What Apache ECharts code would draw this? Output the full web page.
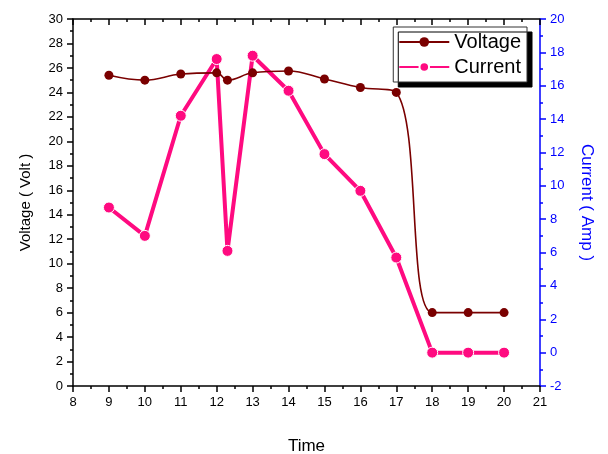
<!DOCTYPE html>
<html>
<head>
<meta charset="utf-8">
<script src="https://cdn.jsdelivr.net/npm/echarts@6/dist/echarts.min.js"></script>
<style>
  html, body { margin: 0; padding: 0; background: #fff; }
</style>
</head>
<body>
<div id="myChart" style="width: 608px; height: 454px;"></div>
<script>
// time values (x) shared by both series
var timeVals = [9, 10, 11, 12, 12.3, 13, 14, 15, 16, 17, 18, 19, 20]
// voltage, left axis
var voltageVals = [25.4, 25.0, 25.5, 25.6, 25.0, 25.6, 25.75, 25.1, 24.4, 24.0, 6.0, 6.0, 6.0]
// current, right axis
var currentVals = [8.7, 7.0, 14.2, 17.6, 6.1, 17.8, 15.7, 11.9, 9.7, 5.7, 0, 0, 0]

var font = 'Liberation Sans, Arial, sans-serif'

function pairs (xs, ys) {
  var out = []
  for (var i = 0; i < xs.length; i++) {
    out.push([xs[i], ys[i]])
  }
  return out
}

var myChart = echarts.init(document.getElementById('myChart'))
myChart.setOption({
  animation: false,
  textStyle: { fontFamily: font },
  grid: {
    left: 73,
    right: 68,
    top: 19,
    bottom: 68,
    outerBoundsMode: 'none'
  },
  legend: {
    orient: 'vertical',
    right: 81,
    top: 27,
    padding: [5, 6, 5, 5],
    itemGap: 5,
    itemWidth: 50,
    itemHeight: 12,
    backgroundColor: '#fff',
    borderColor: '#333',
    borderWidth: 1,
    shadowColor: '#000',
    shadowBlur: 0,
    shadowOffsetX: 5,
    shadowOffsetY: 5,
    textStyle: { fontSize: 20, color: '#000', fontFamily: font },
    data: ['Voltage', 'Current']
  },
  xAxis: [
    {
      type: 'value',
      min: 8,
      max: 21,
      interval: 1,
      name: 'Time',
      nameLocation: 'middle',
      nameGap: 52,
      nameTextStyle: { fontSize: 17, color: '#000' },
      axisLine: { onZero: false, lineStyle: { color: '#000', width: 1.5 } },
      axisTick: { length: 6, lineStyle: { color: '#000', width: 1.5 } },
      minorTick: { show: true, splitNumber: 2, length: 3, lineStyle: { color: '#000', width: 1.5 } },
      axisLabel: { fontSize: 13, color: '#000', margin: 10 },
      splitLine: { show: false }
    },
    {
      type: 'value',
      position: 'top',
      min: 8,
      max: 21,
      interval: 1,
      axisLine: { onZero: false, lineStyle: { color: '#000', width: 1.5 } },
      axisTick: { inside: true, length: 6, lineStyle: { color: '#000', width: 1.5 } },
      minorTick: { show: true, splitNumber: 2, length: 3, lineStyle: { color: '#000', width: 1.5 } },
      axisLabel: { show: false },
      splitLine: { show: false }
    }
  ],
  yAxis: [
    {
      type: 'value',
      min: 0,
      max: 30,
      interval: 2,
      name: 'Voltage ( Volt )',
      nameLocation: 'middle',
      nameGap: 40,
      nameTextStyle: { fontSize: 15, color: '#000' },
      axisLine: { show: true, onZero: false, lineStyle: { color: '#000', width: 1.5 } },
      axisTick: { length: 6, lineStyle: { color: '#000', width: 1.5 } },
      minorTick: { show: true, splitNumber: 2, length: 3, lineStyle: { color: '#000', width: 1.5 } },
      axisLabel: { fontSize: 13, color: '#000', margin: 10 },
      splitLine: { show: false }
    },
    {
      type: 'value',
      position: 'right',
      min: -2,
      max: 20,
      interval: 2,
      name: 'Current ( Amp )',
      nameLocation: 'middle',
      nameRotate: -90,
      nameGap: 38,
      nameTextStyle: { fontSize: 17, color: '#0000ff' },
      axisLine: { show: true, onZero: false, lineStyle: { color: '#0000ff', width: 1.5 } },
      axisTick: { length: 6, lineStyle: { color: '#0000ff', width: 1.5 } },
      minorTick: { show: true, splitNumber: 2, length: 3, lineStyle: { color: '#0000ff', width: 1.5 } },
      axisLabel: { fontSize: 13, color: '#0000ff', margin: 10 },
      splitLine: { show: false }
    }
  ],
  series: [
    {
      name: 'Voltage',
      type: 'line',
      xAxisIndex: 0,
      yAxisIndex: 0,
      smooth: 0.4,
      symbol: 'circle',
      symbolSize: 9,
      color: '#7a0000',
      lineStyle: { width: 1.6, color: '#7a0000' },
      itemStyle: { color: '#7a0000' },
      z: 3,
      data: pairs(timeVals, voltageVals)
    },
    {
      name: 'Current',
      type: 'line',
      xAxisIndex: 0,
      yAxisIndex: 1,
      symbol: 'circle',
      symbolSize: 11,
      color: '#ff0a80',
      lineStyle: { width: 4, color: '#ff0a80' },
      itemStyle: { color: '#ff0a80', borderColor: '#fff', borderWidth: 1 },
      z: 2,
      data: pairs(timeVals, currentVals)
    }
  ]
})
</script>
</body>
</html>
